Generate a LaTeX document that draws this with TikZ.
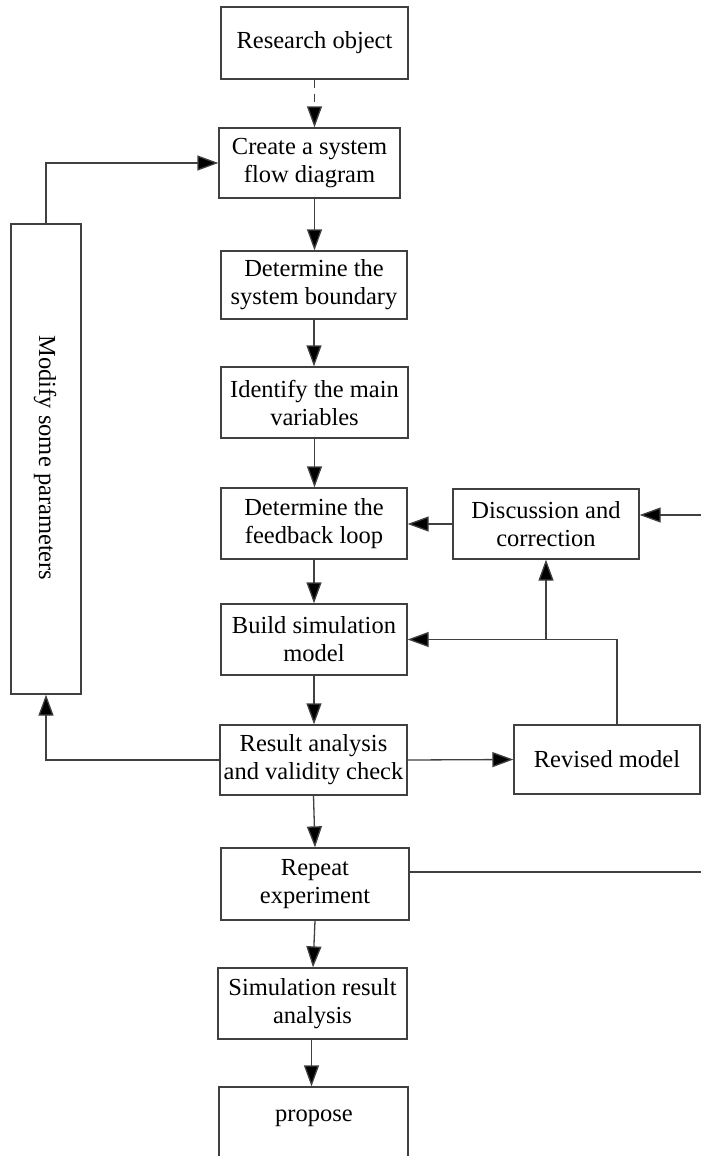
\documentclass[tikz,border=0pt]{standalone}
\usepackage{fontspec}
\setmainfont{Liberation Serif}
\usetikzlibrary{arrows.meta,calc}
\definecolor{lineg}{HTML}{404040}
\begin{document}
\begin{tikzpicture}[x=1pt,y=-1pt,
  box/.style={draw=lineg,line width=1.3pt,rectangle,inner sep=0pt,align=center,
    font=\fontsize{24.5}{28}\selectfont,text=black},
  conn/.style={draw=lineg,line width=1.3pt,-{Triangle[length=21pt,width=15pt,fill=black]}},
  plain/.style={draw=lineg,line width=1.3pt}]
\useasboundingbox (0,0) rectangle (701,1156);
% main column
\node[box,minimum width=187pt,minimum height=72pt] (ro) at (314.5,43) {Research object};
\node[box,minimum width=181pt,minimum height=70pt] (cs) at (309.5,163) {Create a system\\flow diagram};
\node[box,minimum width=186pt,minimum height=68pt] (sb) at (314,285) {Determine the\\system boundary};
\node[box,minimum width=187pt,minimum height=71pt] (mv) at (314.5,402.5) {Identify the main\\variables};
\node[box,minimum width=186pt,minimum height=71pt] (fl) at (314,523.5) {Determine the\\feedback loop};
\node[box,minimum width=186pt,minimum height=71pt] (bs) at (314,639.5) {Build simulation\\model};
\node[box,minimum width=187pt,minimum height=70pt] (ra) at (313.5,760) {Result analysis\\and validity check};
\node[box,minimum width=188pt,minimum height=72pt] (re) at (315,884) {Repeat\\experiment};
\node[box,minimum width=189pt,minimum height=71pt] (sr) at (312.5,1003.5) {Simulation result\\analysis};
\node[box,minimum width=189pt,minimum height=76pt] (pr) at (313.5,1125) {};
\node[font=\fontsize{24.5}{28}\selectfont] (prt) at (314,1118) {propose};
% right side
\node[box,minimum width=186pt,minimum height=70pt] (dc) at (546,524) {Discussion and\\correction};
\node[box,minimum width=186pt,minimum height=69pt] (rm) at (607,759.5) {Revised model};
% left side
\node[box,minimum width=70pt,minimum height=470pt] (mod) at (46,459) {};
\node[font=\fontsize{24.5}{28}\selectfont,rotate=-90] (modt) at (45,458) {Modify some parameters};
% vertical chain
\draw[conn,dashed,dash pattern=on 8pt off 6pt] (ro.south) -- (ro.south |- cs.north);
\draw[conn] (ro.south |- cs.south) -- (ro.south |- sb.north);
\draw[conn] (sb.south) -- (sb.south |- mv.north);
\draw[conn] (mv.south) -- (mv.south |- fl.north);
\draw[conn] (fl.south) -- (fl.south |- bs.north);
\draw[conn] (bs.south) -- (bs.south |- ra.north);
\draw[conn] (ra.south) -- ([xshift=1.5pt]ra.south |- re.north);
\draw[conn] (re.south) -- ([xshift=-2pt]re.south |- sr.north);
\draw[conn] ([xshift=-1pt]sr.south) -- ([xshift=-1pt]sr.south |- pr.north);
% left loop
\draw[conn] (mod.north) |- (cs.west);
\draw[conn] (ra.west) -| (mod.south);
% result -> revised
\draw[conn] (ra.east) -- (rm.west);
% revised -> build
\coordinate (j1) at (dc.south |- bs.east);
\draw[conn] ([xshift=10pt]rm.north) |- (bs.east);
\draw[conn] (j1) -- (dc.south);
% discussion -> feedback
\draw[conn] (dc.west) -- (dc.west -| fl.east);
% incoming from right
\coordinate (rin) at (701,515);
\draw[conn] (rin) -- (rin -| dc.east);
% outgoing from repeat
\coordinate (rout) at (701,872);
\draw[plain] (re.east |- rout) -- (rout);
\end{tikzpicture}
\end{document}
